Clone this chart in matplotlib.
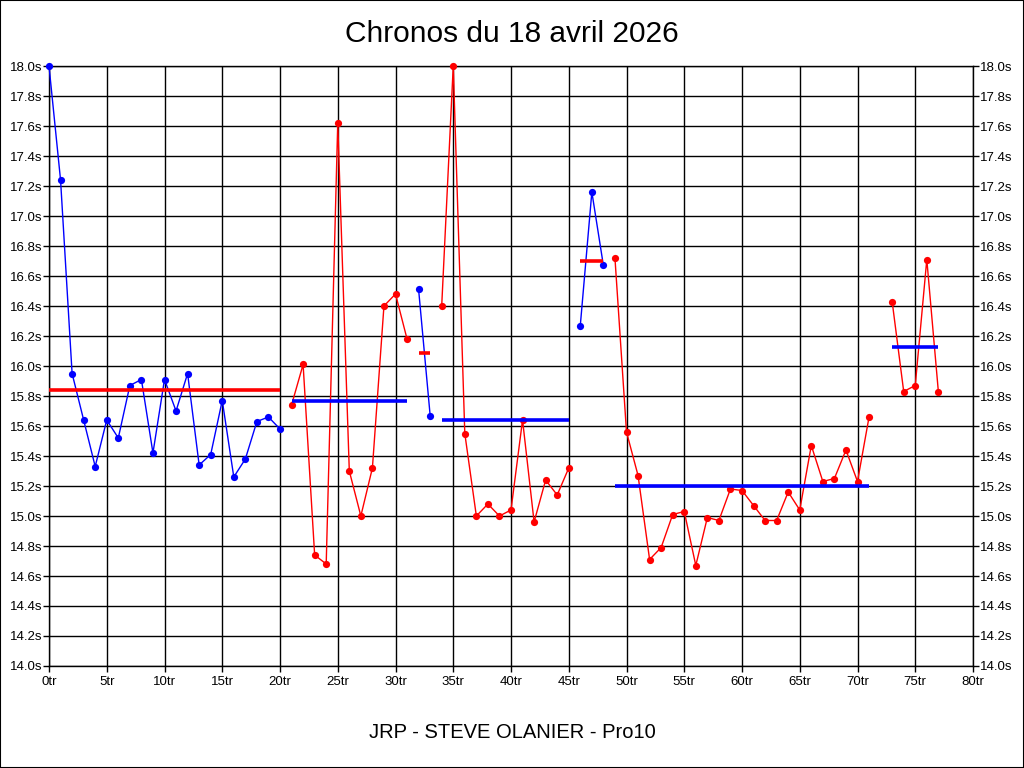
import matplotlib
matplotlib.use("Agg")
import matplotlib.pyplot as plt
import numpy as np
from matplotlib.patches import Rectangle

plt.rcParams["font.family"] = ["Liberation Sans Narrow", "Liberation Sans", "DejaVu Sans"]

title = "Chronos du 18 avril 2026"
subtitle = "JRP - STEVE OLANIER - Pro10"

# lap times in seconds, lap 72 missing
times = [
    18.00, 17.24, 15.95, 15.64, 15.33, 15.64, 15.52, 15.87, 15.91, 15.42,
    15.91, 15.70, 15.95, 15.34, 15.41, 15.77, 15.26, 15.38, 15.63, 15.66,
    15.58, 15.74, 16.01, 14.74, 14.68, 17.62, 15.30, 15.00, 15.32, 16.40,
    16.48, 16.18, 16.51, 15.67, 16.40, 18.00, 15.55, 15.00, 15.08, 15.00,
    15.04, 15.64, 14.96, 15.24, 15.14, 15.32, 16.27, 17.16, 16.67, 16.72,
    15.56, 15.27, 14.71, 14.79, 15.01, 15.03, 14.67, 14.99, 14.97, 15.18,
    15.17, 15.07, 14.97, 14.97, 15.16, 15.04, 15.47, 15.23, 15.25, 15.44,
    15.23, 15.66, None, 16.43, 15.83, 15.87, 16.71, 15.83,
]

# run segments
seg_first = [0, 21, 32, 34, 46, 49, 73]
seg_last = [20, 31, 33, 45, 48, 71, 77]
seg_colors = ["blue", "red", "blue", "red", "blue", "red", "red"]
seg_means = [15.84, 15.77, 16.09, 15.64, 16.70, 15.20, 16.13]

x_ticks = list(range(0, 81, 5))
y_ticks = list(np.arange(14.0, 18.01, 0.2))

W, H = 1024, 768
fig = plt.figure(figsize=(W / 100, H / 100), dpi=100)
fig.patches.append(Rectangle((0, 0), 1, 1, transform=fig.transFigure,
                             fill=False, edgecolor="black", linewidth=1.5))

ax = fig.add_axes([49 / W, 1 - 666 / H, 924 / W, 600 / H])

other = {"blue": "red", "red": "blue"}
for a, b, c, m in zip(seg_first, seg_last, seg_colors, seg_means):
    xs = list(range(a, b + 1))
    ys = [times[i] for i in xs]
    ax.plot(xs, ys, color=c, linewidth=1.0, marker="o", markersize=5.2,
            markeredgewidth=0, zorder=3, clip_on=False)
    ax.plot([a, b], [m, m], color=other[c], linewidth=2.6, zorder=4,
            solid_capstyle="butt")

ax.set_xlim(0, 80)
ax.set_ylim(14.0, 18.0)
ax.set_xticks(x_ticks)
ax.set_xticklabels([f"{t}tr" for t in x_ticks])
ax.set_yticks(y_ticks)
ax.set_yticklabels([f"{t:.1f}s" for t in y_ticks])
ax.tick_params(axis="y", which="both", left=True, right=True,
               labelleft=True, labelright=True, length=4, width=1,
               labelsize=9.5, pad=1, color="black")
ax.tick_params(axis="x", length=4, width=1, labelsize=9.5, pad=3)
ax.grid(True, color="black", linewidth=1)
ax.set_axisbelow(True)
for s in ax.spines.values():
    s.set_linewidth(1)
    s.set_color("black")

fig.text(0.5, 1 - 34 / H, title, ha="center", va="center", fontsize=21.5,
         family=["Liberation Sans", "DejaVu Sans"])
fig.text(0.5, 1 - 733 / H, subtitle, ha="center", va="center", fontsize=14.5,
         family=["Liberation Sans", "DejaVu Sans"])

fig.savefig("out.png", dpi=100)
